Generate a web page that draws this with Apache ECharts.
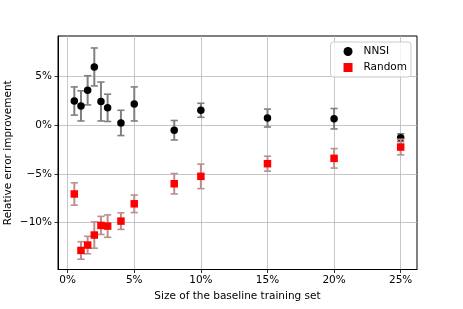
<!DOCTYPE html>
<html><head><meta charset="utf-8">
<script src="https://cdn.jsdelivr.net/npm/echarts@6/dist/echarts.min.js"></script>
<style>html,body{margin:0;padding:0;background:#fff}#c{width:463px;height:309px}</style>
</head><body><div id="c"></div>
<script>
const sizes = [0.5, 1, 1.5, 2, 2.5, 3, 4, 5, 8, 10, 15, 20, 25];
const nnsiMean = [2.5, 2.0, 3.6, 6.0, 2.45, 1.8, 0.25, 2.2, -0.5, 1.55, 0.75, 0.68, -1.27];
const nnsiErr  = [1.45, 1.55, 1.5, 1.95, 2.0, 1.4, 1.3, 1.75, 1.0, 0.72, 0.92, 1.05, 0.4];
const randMean = [-7.05, -12.85, -12.3, -11.27, -10.28, -10.35, -9.84, -8.06, -6.0, -5.24, -3.94, -3.39, -2.23];
const randErr  = [1.15, 0.9, 0.9, 1.35, 0.93, 1.15, 0.85, 0.9, 1.05, 1.26, 0.77, 1.0, 0.8];
const xTicks = [0, 5, 10, 15, 20, 25];
const yTicks = [-10, -5, 0, 5];

const font = 'DejaVu Sans';
const fmt = v => (v < 0 ? '\u2212' + Math.abs(v) : String(v)) + '%';

function errData(mean, err) {
  return sizes.map((x, i) => [x, mean[i] - err[i], mean[i] + err[i]]);
}
function errRender(color) {
  return function (params, api) {
    const x = api.value(0);
    const top = api.coord([x, api.value(2)]);
    const bot = api.coord([x, api.value(1)]);
    const cw = 3.6;
    const st = { stroke: color, lineWidth: 2 };
    return { type: 'group', children: [
      { type: 'line', shape: { x1: top[0], y1: top[1], x2: bot[0], y2: bot[1] }, style: st },
      { type: 'line', shape: { x1: top[0] - cw, y1: top[1], x2: top[0] + cw, y2: top[1] }, style: { stroke: color, lineWidth: 1.6 } },
      { type: 'line', shape: { x1: bot[0] - cw, y1: bot[1], x2: bot[0] + cw, y2: bot[1] }, style: { stroke: color, lineWidth: 1.6 } }
    ]};
  };
}

const chart = echarts.init(document.getElementById('c'), null, { renderer: 'canvas' });
chart.setOption({
  animation: false,
  textStyle: { fontFamily: font },
  grid: { left: 58, right: 46, top: 36, bottom: 39.5, show: true, borderColor: '#000', borderWidth: 1, containLabel: false, outerBoundsMode: 'none' },
  xAxis: {
    type: 'value', min: -0.725, max: 26.225,
    name: 'Size of the baseline training set', nameLocation: 'middle', nameGap: 21, nameMoveOverlap: false,
    nameTextStyle: { fontFamily: font, fontSize: 10.5, color: '#000' },
    axisLine: { show: true, onZero: false, lineStyle: { color: '#000', width: 1 } },
    axisTick: { show: true, inside: false, length: 3.5, customValues: xTicks, lineStyle: { color: '#000', width: 0.8 } },
    axisLabel: { customValues: xTicks, formatter: fmt, margin: 5, fontFamily: font, fontSize: 10.5, color: '#000' },
    splitLine: { show: true, lineStyle: { color: '#b8b8b8', width: 0.8 } }
  },
  yAxis: {
    type: 'value', min: -14.81, max: 9.18,
    name: 'Relative error improvement', nameLocation: 'middle', nameGap: 44, nameRotate: 90, nameMoveOverlap: false,
    nameTextStyle: { fontFamily: font, fontSize: 10.5, color: '#000' },
    axisLine: { show: true, onZero: false, lineStyle: { color: '#000', width: 1 } },
    axisTick: { show: true, inside: false, length: 3.5, customValues: yTicks, lineStyle: { color: '#000', width: 0.8 } },
    axisLabel: { customValues: yTicks, formatter: fmt, margin: 6, fontFamily: font, fontSize: 10.5, color: '#000' },
    splitLine: { show: true, lineStyle: { color: '#b8b8b8', width: 0.8 } }
  },
  legend: {
    orient: 'vertical', right: 52, top: 42,
    padding: [4, 4, 4, 13], itemGap: 5, itemWidth: 9, itemHeight: 9,
    backgroundColor: 'rgba(255,255,255,0.8)', borderColor: '#cccccc', borderWidth: 1, borderRadius: 3,
    textStyle: { fontFamily: font, fontSize: 10.5, color: '#000', padding: [0, 0, 0, 6] },
    data: [{ name: 'NNSI', icon: 'circle', itemStyle: { color: '#000', opacity: 1 } }, { name: 'Random', icon: 'rect', itemStyle: { color: '#ff0000', opacity: 1 } }]
  },
  series: [
    { type: 'custom', name: 'NNSI', data: errData(nnsiMean, nnsiErr), renderItem: errRender('#808080'), z: 2, encode: { x: 0, y: [1, 2] }, itemStyle: { color: '#000' } },
    { type: 'scatter', name: 'NNSI', data: sizes.map((x, i) => [x, nnsiMean[i]]), symbol: 'circle', symbolSize: 7.5, itemStyle: { color: '#000', opacity: 1 }, z: 3 },
    { type: 'custom', name: 'Random', data: errData(randMean, randErr), renderItem: errRender('#bc8f8f'), z: 4, encode: { x: 0, y: [1, 2] }, itemStyle: { color: '#ff0000' } },
    { type: 'scatter', name: 'Random', data: sizes.map((x, i) => [x, randMean[i]]), symbol: 'rect', symbolSize: 7.5, itemStyle: { color: '#ff0000', opacity: 1 }, z: 5 }
  ]
});
</script></body></html>
